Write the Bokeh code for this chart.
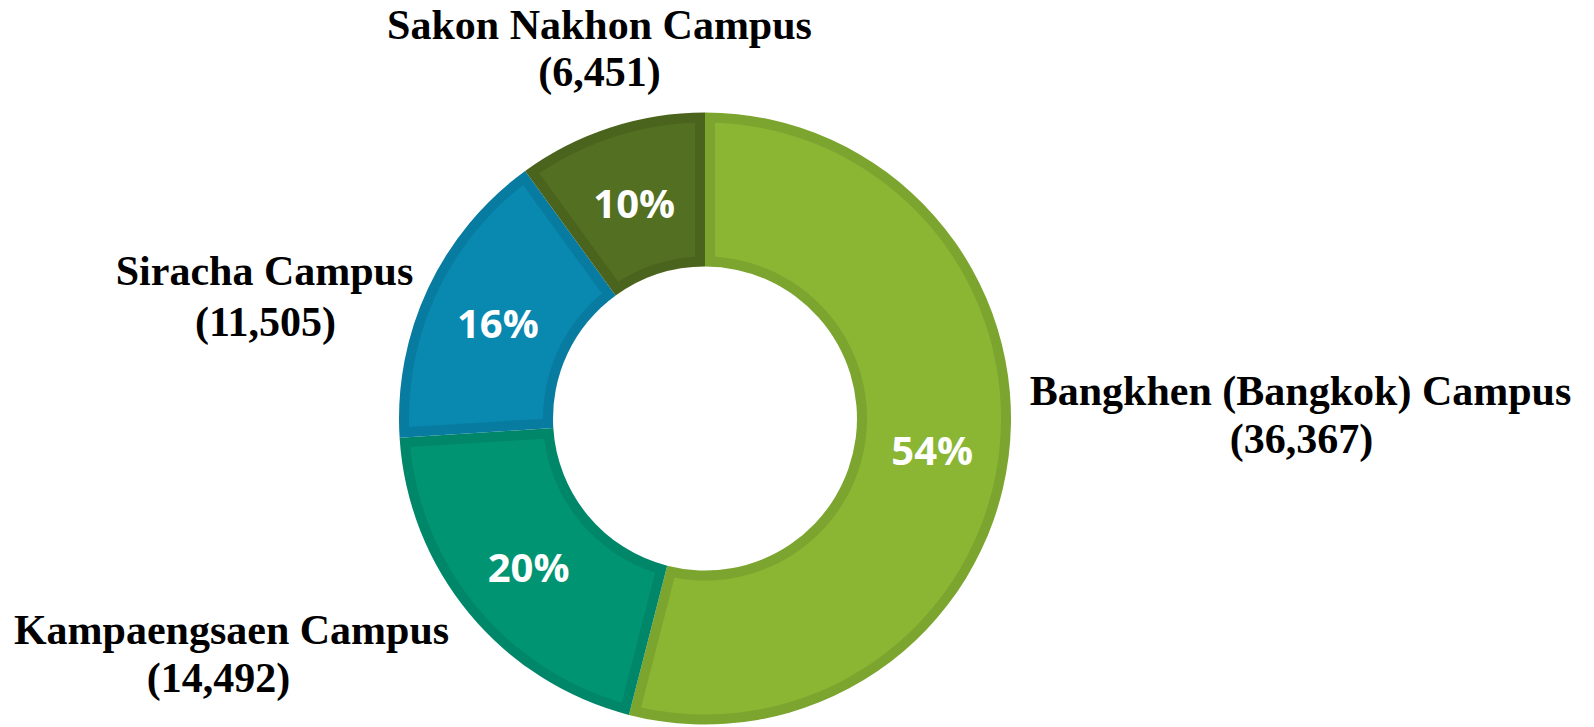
import numpy as np
from bokeh.plotting import figure
from bokeh.models import Range1d, ColumnDataSource
from bokeh.core.properties import value
from bokeh.embed import file_html
from bokeh.resources import INLINE

# ---- data ----
campuses = ["Bangkhen (Bangkok) Campus", "Kampaengsaen Campus", "Siracha Campus", "Sakon Nakhon Campus"]
students = [36367, 14492, 11505, 6451]
percents = [54, 20, 16, 10]

# ---- styling / layout ----
fill_colors = ["#8AB634", "#009473", "#0988B0", "#536F21"]
border_colors = ["#7BA52E", "#008668", "#087CA0", "#4A631D"]
W, H = 1594, 727
cx, cy = 704.5, 309
r_in, r_out = 152, 306
bw = 10  # inner border width

# label anchor points (pixels in plot coords, y up)
name_x = [1300, 231, 264, 599]
name_y = [337, 98, 457, 703]
cnt_x = [1301, 218, 265, 599]
cnt_y = [289, 50, 406, 656]

p = figure(width=W, height=H, output_backend="svg", toolbar_location=None,
           x_range=Range1d(0, W), y_range=Range1d(0, H), min_border=0,
           x_axis_location=None, y_axis_location=None)
p.grid.visible = False
p.outline_line_color = None
p.background_fill_color = "white"

frac = np.array(percents, dtype=float) / np.sum(percents)
cum = np.concatenate([[0], np.cumsum(frac)])
start = np.pi / 2 - 2 * np.pi * cum[:-1]
end = np.pi / 2 - 2 * np.pi * cum[1:]

src = ColumnDataSource(dict(start=start, end=end, border=border_colors))
p.annular_wedge(x=cx, y=cy, inner_radius=r_in, outer_radius=r_out,
                start_angle="end", end_angle="start", fill_color="border",
                line_color=None, source=src)

# inner lighter region: inset by bw from every edge
xs, ys = [], []
ro, ri = r_out - bw, r_in + bw
for a0, a1 in zip(start, end):
    o0, o1 = a0 - np.arcsin(bw / ro), a1 + np.arcsin(bw / ro)
    i0, i1 = a0 - np.arcsin(bw / ri), a1 + np.arcsin(bw / ri)
    t_out = np.linspace(o0, o1, 120)
    t_in = np.linspace(i1, i0, 80)
    px = np.concatenate([cx + ro * np.cos(t_out), cx + ri * np.cos(t_in)])
    py = np.concatenate([cy + ro * np.sin(t_out), cy + ri * np.sin(t_in)])
    xs.append(px.tolist())
    ys.append(py.tolist())
p.patches(xs=xs, ys=ys, fill_color=fill_colors, line_color=None)

# percentage labels
mid = (start + end) / 2
rm = (r_in + r_out) / 2
p.text(x=(cx + rm * np.cos(mid)).tolist(), y=(cy + rm * np.sin(mid) - 2).tolist(),
       text=[f"{v}%" for v in percents], text_color="white",
       text_font=value("Open Sans"), text_font_style="bold", text_font_size="40px",
       text_align="center", text_baseline="middle")

# campus labels
p.text(x=name_x, y=name_y, text=campuses, text_color="black",
       text_font=value("Liberation Serif"), text_font_style="bold", text_font_size="42px",
       text_align="center", text_baseline="alphabetic")
p.text(x=cnt_x, y=cnt_y, text=[f"({v:,})" for v in students], text_color="black",
       text_font=value("Liberation Serif"), text_font_style="bold", text_font_size="42px",
       text_align="center", text_baseline="alphabetic")

open("out.html", "w").write(file_html(p, INLINE))
